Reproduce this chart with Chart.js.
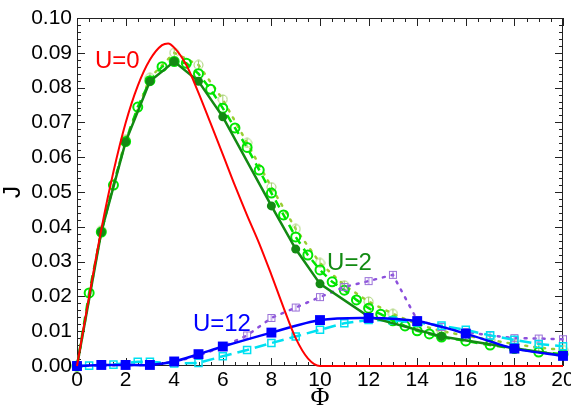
<!DOCTYPE html>
<html>
<head>
<meta charset="utf-8">
<script src="https://cdn.jsdelivr.net/npm/chart.js@4.4.1/dist/chart.umd.min.js"></script>
<style>
  html, body { margin: 0; padding: 0; background: #fff; }
</style>
</head>
<body>
<canvas id="grafico" width="571" height="410"></canvas>
<script>
// U=0 (curva continua)
const phiU0 = [0, 0.5, 1, 1.5, 2, 2.5, 3, 3.5, 3.75, 4, 4.5, 5, 5.5, 6, 6.5, 7, 7.5, 8, 8.5, 9, 9.5, 10, 20];
const jU0 = [0, 0.0200, 0.0392, 0.0558, 0.0698, 0.0805, 0.0880, 0.0922, 0.0927, 0.0915, 0.0865, 0.0785, 0.0697, 0.0608, 0.0518, 0.0433, 0.0352, 0.0262, 0.0168, 0.0080, 0.0022, 0, 0];

// U=2: círculos llenos, círculos abiertos y círculos con barra
const phiU2 = [0, 1, 2, 3, 4, 5, 6, 8, 9, 10, 12, 15, 18, 20];
const jU2 = [0, 0.0385, 0.0644, 0.0818, 0.0875, 0.0818, 0.0716, 0.0460, 0.0336, 0.0236, 0.0142, 0.0085, 0.0051, 0.0030];

const phiU2b = [0, 0.5, 1, 1.5, 2, 2.5, 3, 3.5, 4, 4.5, 5, 5.5, 6, 6.5, 7, 7.5, 8, 8.5, 9, 9.5, 10, 10.5, 11, 11.5, 12, 12.5, 13, 13.5, 14, 14.5, 15, 16, 17, 18, 19, 20];
const jU2b = [0, 0.0210, 0.0385, 0.0520, 0.0645, 0.0744, 0.0820, 0.0860, 0.0875, 0.0870, 0.0840, 0.0795, 0.0741, 0.0684, 0.0628, 0.0563, 0.0497, 0.0434, 0.0371, 0.0319, 0.0276, 0.0242, 0.0218, 0.0190, 0.0166, 0.0149, 0.0130, 0.0115, 0.0101, 0.0092, 0.0083, 0.0072, 0.0060, 0.0050, 0.0040, 0.0034];

const phiU2c = [0, 1, 2, 3, 4, 5, 6, 7, 8, 9, 10, 11, 12, 13, 14, 15, 16, 17, 18, 19, 20];
const jU2c = [0, 0.0390, 0.0650, 0.0828, 0.0900, 0.0865, 0.0766, 0.0641, 0.0514, 0.0394, 0.0296, 0.0232, 0.0185, 0.0150, 0.0120, 0.0100, 0.0087, 0.0075, 0.0063, 0.0053, 0.0046];

// U=12: cuadrados llenos, cuadrados abiertos y cuadrados con barra
const phiU12 = [0, 1, 2, 3, 4, 5, 6, 8, 10, 12, 14, 16, 18, 20];
const jU12 = [0, 0.0003, 0.0003, 0.0003, 0.0013, 0.0034, 0.0056, 0.0096, 0.0132, 0.0138, 0.0129, 0.0093, 0.0050, 0.0029];

const phiU12b = [0, 0.5, 1.5, 2.5, 3, 4, 5, 6, 7, 8, 9, 10, 11, 12, 13, 14, 15, 16, 17, 18, 19, 20];
const jU12b = [0, 0.0001, 0.0004, 0.0012, 0.0012, 0.0007, 0.0009, 0.0028, 0.0046, 0.0066, 0.0085, 0.0104, 0.0123, 0.0132, 0.0131, 0.0125, 0.0116, 0.0104, 0.0088, 0.0075, 0.0063, 0.0057];

const phiU12c = [0, 1, 2, 3, 4, 5, 6, 7, 8, 9, 10, 11, 12, 13, 14, 15, 16, 17, 18, 19, 20];
const jU12c = [0, 0.0002, 0.0002, 0.0004, 0.0012, 0.0030, 0.0055, 0.0088, 0.0138, 0.0168, 0.0198, 0.0227, 0.0244, 0.0262, 0.0132, 0.0112, 0.0098, 0.0088, 0.0080, 0.0079, 0.0077];

const phiTicks = [0, 2, 4, 6, 8, 10, 12, 14, 16, 18, 20];
const jTicks = [0, 0.01, 0.02, 0.03, 0.04, 0.05, 0.06, 0.07, 0.08, 0.09, 0.10];
const etiquetasU = ["U=0", "U=2", "U=12"];

const puntos = (xs, ys) => xs.map((x, i) => ({ x, y: ys[i] }));

// marcador pequeño con barra vertical (círculo o cuadrado)
function marcaBarra(forma, color, lado) {
  const c = document.createElement("canvas");
  c.width = lado; c.height = lado;
  const g = c.getContext("2d");
  g.strokeStyle = color;
  g.lineWidth = 1;
  const m = lado / 2;
  if (forma === "circulo") {
    g.beginPath(); g.arc(m, m, m - 1, 0, 2 * Math.PI); g.stroke();
  } else {
    g.strokeRect(1.5, 1.5, lado - 3, lado - 3);
  }
  g.beginPath(); g.moveTo(m, 1); g.lineTo(m, lado - 1); g.stroke();
  return c;
}

const fuente = "'Liberation Sans', Arial, Helvetica, sans-serif";

// marco con marcas hacia adentro en los cuatro lados + textos de cada curva
const marcoEjes = {
  id: "marcoEjes",
  beforeDatasetsDraw(chart) {
    const { ctx, chartArea: a, scales: { x, y } } = chart;
    ctx.save();
    ctx.strokeStyle = "#222";
    ctx.lineWidth = 1;
    ctx.strokeRect(a.left + 0.5, a.top + 0.5, a.right - a.left - 1, a.bottom - a.top - 1);
    ctx.beginPath();
    for (let i = 0; i <= 40; i++) {
      const px = Math.round(x.getPixelForValue(i * 0.5)) + 0.5;
      const len = i % 4 === 0 ? 8 : 4;
      ctx.moveTo(px, a.bottom); ctx.lineTo(px, a.bottom - len);
      ctx.moveTo(px, a.top); ctx.lineTo(px, a.top + len);
    }
    for (let i = 0; i <= 50; i++) {
      const py = Math.round(y.getPixelForValue(i * 0.002)) + 0.5;
      const len = i % 5 === 0 ? 8 : 4;
      ctx.moveTo(a.left, py); ctx.lineTo(a.left + len, py);
      ctx.moveTo(a.right, py); ctx.lineTo(a.right - len, py);
    }
    ctx.stroke();
    ctx.restore();
  },
  afterDatasetsDraw(chart, args, opts) {
    const { ctx, scales: { x, y } } = chart;
    ctx.save();
    ctx.font = "24px " + fuente;
    ctx.textBaseline = "alphabetic";
    ctx.textAlign = "left";
    opts.textos.forEach(t => {
      ctx.fillStyle = t.color;
      ctx.fillText(t.texto, x.getPixelForValue(t.x), y.getPixelForValue(t.y));
    });
    ctx.restore();
  }
};

new Chart(document.getElementById("grafico"), {
  type: "line",
  data: {
    datasets: [
      {
        data: puntos(phiU0, jU0),
        borderColor: "#ff0000", borderWidth: 2,
        pointRadius: 0, cubicInterpolationMode: "monotone"
      },
      {
        data: puntos(phiU12, jU12),
        borderColor: "#0000ff", borderWidth: 2.5,
        pointStyle: "rect", pointRadius: 7, pointBackgroundColor: "#0000ff", pointBorderWidth: 0,
        tension: 0.25
      },
      {
        data: puntos(phiU2, jU2),
        borderColor: "#138a13", borderWidth: 2.5,
        pointRadius: 4.5, pointBackgroundColor: "#138a13", pointBorderWidth: 0
      },
      {
        data: puntos(phiU12b, jU12b),
        borderColor: "#00e0f0", borderWidth: 2.5, borderDash: [12, 6],
        pointStyle: "rect", pointRadius: 5, pointBorderWidth: 1.5,
        pointBorderColor: "#00e0f0", pointBackgroundColor: "rgba(0,0,0,0)"
      },
      {
        data: puntos(phiU12c, jU12c),
        borderColor: "#8c4fdc", borderWidth: 2.5, borderDash: [2, 7], borderCapStyle: "round",
        pointStyle: marcaBarra("cuadrado", "#9a70d8", 10)
      },
      {
        data: puntos(phiU2b, jU2b),
        borderColor: "#00e600", borderWidth: 2.5, borderDash: [8, 6],
        pointRadius: 4.5, pointBorderWidth: 2,
        pointBorderColor: "#00e600", pointBackgroundColor: "rgba(0,0,0,0)"
      },
      {
        data: puntos(phiU2c, jU2c),
        borderColor: "#9acd32", borderWidth: 2.5, borderDash: [2, 7], borderCapStyle: "round",
        pointStyle: marcaBarra("circulo", "#a2cf6a", 11)
      }
    ]
  },
  options: {
    responsive: false,
    animation: false,
    clip: false,
    layout: { padding: { left: 0, top: 18, right: 8, bottom: 0 } },
    plugins: {
      legend: { display: false },
      tooltip: { enabled: false },
      marcoEjes: {
        textos: [
          { texto: etiquetasU[0], x: 0.74, y: 0.0856, color: "#ff0000" },
          { texto: etiquetasU[1], x: 10.29, y: 0.0276, color: "#138a13" },
          { texto: etiquetasU[2], x: 4.77, y: 0.0101, color: "#0000ff" }
        ]
      }
    },
    scales: {
      x: {
        type: "linear", min: 0, max: 20,
        afterBuildTicks: s => { s.ticks = phiTicks.map(v => ({ value: v })); },
        afterFit: s => { s.height = 44; s.paddingLeft = 0; s.paddingRight = 0; },
        grid: { display: false, drawTicks: false },
        border: { display: false },
        ticks: { color: "#000", font: { family: fuente, size: 21 }, padding: 2, maxRotation: 0 },
        title: { display: true, text: "Φ", color: "#000", font: { family: "'Liberation Serif', serif", size: 26, lineHeight: 0.9 }, padding: { top: 0, bottom: 0 } }
      },
      y: {
        type: "linear", min: 0, max: 0.1,
        afterBuildTicks: s => { s.ticks = jTicks.map(v => ({ value: v })); },
        afterFit: s => { s.width = 77; s.paddingTop = 0; s.paddingBottom = 0; },
        grid: { display: false, drawTicks: false },
        border: { display: false },
        ticks: { color: "#000", font: { family: fuente, size: 21 }, padding: 5, callback: v => v.toFixed(2) },
        title: { display: true, text: "J", color: "#000", font: { family: fuente, size: 24, lineHeight: 1 }, padding: { top: 1, bottom: 0 } }
      }
    }
  },
  plugins: [marcoEjes]
});
</script>
</body>
</html>
